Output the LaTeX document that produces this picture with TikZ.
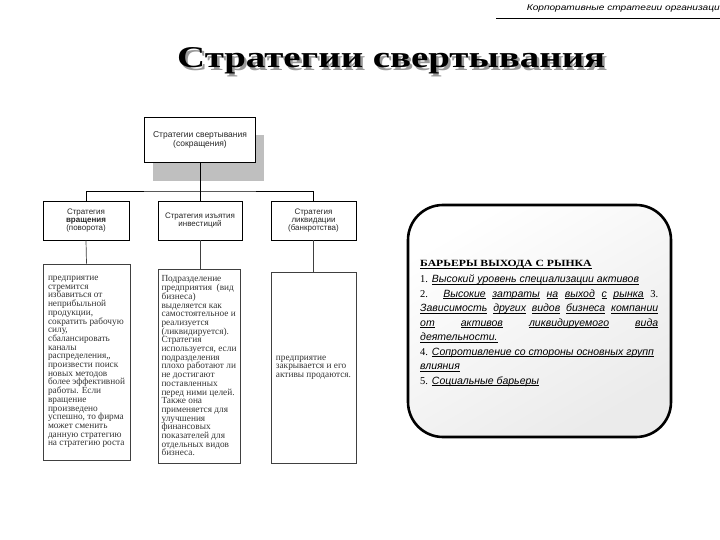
\documentclass[tikz,border=0pt]{standalone}
\usepackage{fontspec}
\setmainfont{Liberation Serif}
\setsansfont{Liberation Sans}
\newcommand\uw[1]{\setbox0=\hbox{#1}\rlap{\rule[-1.9pt]{\wd0}{0.6pt}}\box0\relax}
\newcommand\nmr{\rmfamily\upshape}
\begin{document}
\begin{tikzpicture}[x=1pt,y=-1pt,
  topbox/.style={draw, line width=0.8pt, fill=white, minimum width=111pt, minimum height=45pt, inner sep=0, align=center, font=\sffamily\fontsize{8.5}{7.5}\selectfont, text=black!85},
  midbox/.style={draw, line width=0.7pt, minimum height=39pt, inner sep=0, align=center, font=\sffamily\fontsize{8}{7.6}\selectfont, text=black!85},
  lowbox/.style={draw=black!75, line width=0.6pt, inner sep=0, align=left, font=\rmfamily\fontsize{9.3}{8.7}\selectfont, text=black!80},
  conn/.style={line width=0.7pt},
  rbt/.style={anchor=base west, inner sep=0, font=\sffamily\itshape\fontsize{10.5}{12}\selectfont}
]
\useasboundingbox (0,0) rectangle (720,540);
% header
\node[anchor=base east, inner sep=0] (hdr) at (720,10.5) {\resizebox{193pt}{5.8pt}{\sffamily\itshape Корпоративные стратегии организаци}};
\coordinate (hl) at (496,18);
\coordinate (hr) at (720,18);
\draw[line width=0.8pt] (hl) -- (hr);
% title
\node[anchor=base west, inner sep=0, text=black!40] (tsh) at (179.5,70.5) {\resizebox{428pt}{20pt}{\bfseries Стратегии свертывания}};
\node[anchor=base west, inner sep=0] (title) at (177,68) {\resizebox{428pt}{20pt}{\bfseries Стратегии свертывания}};
% top box with shadow
\fill[black!25] (153,135) rectangle (264,181);
\node[topbox] (top) at (200,139.5) {Стратегии свертывания\\(сокращения)};
% row 2
\node[midbox, minimum width=86pt] (b1) at (86,220.5) {Стратегия\\\textbf{вращения}\\(поворота)};
\node[midbox, minimum width=84pt] (b2) at (200,220.5) {Стратегия изъятия\\инвестиций};
\node[midbox, minimum width=85pt] (b3) at (313.5,220.5) {Стратегия\\ликвидации\\(банкротства)};
\coordinate (j) at (200,191);
\draw[conn] (top.south) -- (j);
\draw[conn] (b1.north) |- (j) -| (b3.north);
\draw[conn] (j) -- (b2.north);
% row 3
\node[lowbox, minimum width=87pt, minimum height=196pt] (c1) at (86.5,362) {предприятие\\стремится\\избавиться от\\неприбыльной\\продукции,\\сократить рабочую\\силу,\\сбалансировать\\каналы\\распределения,,\\произвести поиск\\новых методов\\более эффективной\\работы. Если\\вращение\\произведено\\успешно, то фирма\\может сменить\\данную стратегию\\на стратегию роста};
\node[lowbox, minimum width=82pt, minimum height=194pt] (c2) at (199,366) {Подразделение\\предприятия \ (вид\\бизнеса)\\выделяется как\\самостоятельное и\\реализуется\\(ликвидируется).\\Стратегия\\используется, если\\подразделения\\плохо работают ли\\не достигают\\поставленных\\перед ними целей.\\Также она\\применяется для\\улучшения\\финансовых\\показателей для\\отдельных видов\\бизнеса.};
\node[lowbox, minimum width=85pt, minimum height=191pt] (c3) at (313.5,367.5) {предприятие\\закрывается и его\\активы продаются.};
\draw[conn, draw=black!75] (b1.south) -- (c1.north);
\draw[conn, draw=black!75] (b2.south) -- (b2.south |- c2.north);
\draw[conn, draw=black!75] (b3.south) -- (c3.north);
% rounded box
\node[draw, line width=2.6pt, rounded corners=35pt, top color=white, bottom color=black!8, shading angle=30, minimum width=263pt, minimum height=232pt, inner sep=0] (rb) at (539.5,321) {};
\node[anchor=base west, inner sep=0, font=\rmfamily\fontsize{10}{12}\selectfont] (l0) at (420,266.5) {\scalebox{1.17}[0.95]{\bfseries\uw{БАРЬЕРЫ ВЫХОДА С РЫНКА}}};
\node[rbt] (l1) at (420,282.5) {{\nmr 1.} \uw{Высокий уровень специализации активов}};
\node[rbt] (l2) at (420,297) {\makebox[238pt][s]{{\nmr 2.} \uw{Высокие} \uw{затраты} \uw{на} \uw{выход} \uw{с} \uw{рынка} {\nmr 3.}}};
\node[rbt] (l3) at (420,311.5) {\makebox[238pt][s]{\uw{Зависимость} \uw{других} \uw{видов} \uw{бизнеса} \uw{компании}}};
\node[rbt] (l4) at (420,326) {\makebox[238pt][s]{\uw{от} \uw{активов} \uw{ликвидируемого} \uw{вида}}};
\node[rbt] (l5) at (420,340.5) {\uw{деятельности.}};
\node[rbt] (l6) at (420,355) {{\nmr 4.} \uw{Сопротивление со стороны основных групп}};
\node[rbt] (l7) at (420,369.5) {\uw{влияния}};
\node[rbt] (l8) at (420,384) {{\nmr 5.} \uw{Социальные барьеры}};
\end{tikzpicture}
\end{document}
